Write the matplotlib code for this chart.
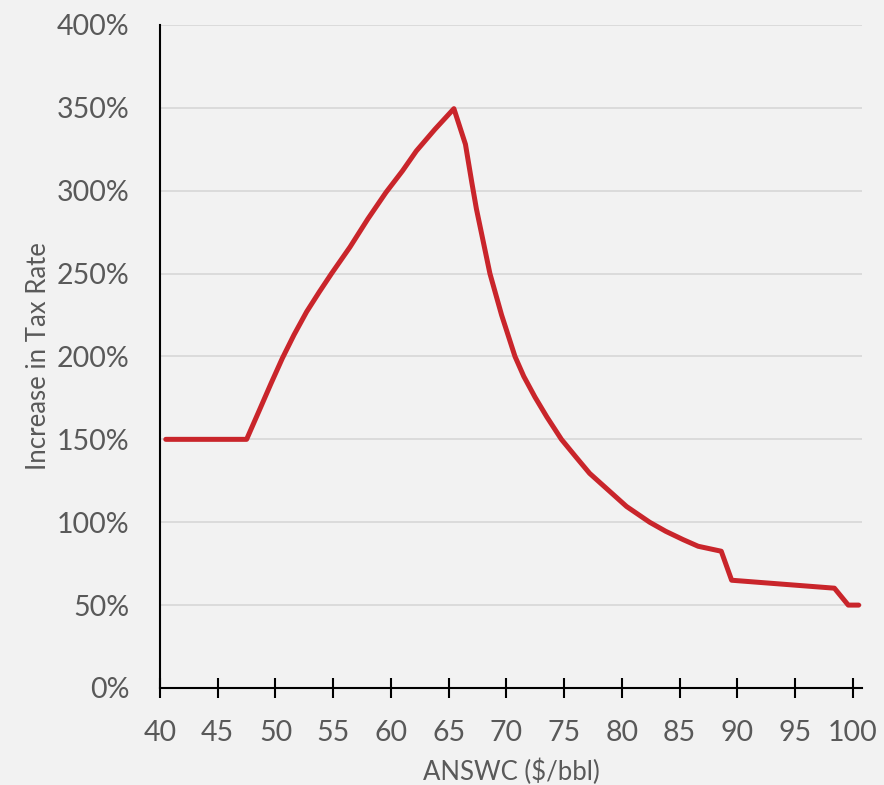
import matplotlib.pyplot as plt
from matplotlib.ticker import PercentFormatter, MultipleLocator

plt.rcParams["font.family"] = ["Lato", "DejaVu Sans"]

# 数据 (ANSWC $/bbl, 税率增幅 %)
price = [40.5, 47.5, 48.6, 49.6, 50.6, 51.6, 52.7, 53.8, 54.85, 56.45,
         58.0, 59.57, 61.0, 62.2, 63.8, 65.45,
         66.45, 67.0, 67.4, 68.57, 69.58, 70.74, 71.5, 72.47, 73.5, 74.76,
         76.0, 77.2, 78.8, 80.4, 82.4, 83.8, 85.3, 86.6, 88.6,
         89.5, 98.4, 99.6, 100.5]
increase = [150, 150, 167.5, 183.5, 199, 213, 227, 239, 250, 266,
            283, 299, 312, 324, 337, 349.5,
            328, 305, 289, 250, 225, 200, 188, 175.5, 163.5, 150,
            139.5, 129.5, 119.5, 109.5, 100, 94.5, 89.5, 85.5, 82.5,
            65, 60.2, 50, 50]

bg = "#f2f2f2"
grey = "#595959"

fig = plt.figure(figsize=(8.84, 7.85), dpi=100, facecolor=bg)
ax = fig.add_axes([0.181, 0.1236, 0.794, 0.8446], facecolor=bg)

ax.plot(price, increase, color="#c9252b", lw=3.6, solid_capstyle="round",
        solid_joinstyle="round", zorder=3)

ax.set_xlim(40, 100.78)
ax.set_ylim(0, 400)
ax.xaxis.set_major_locator(MultipleLocator(5))
ax.yaxis.set_major_locator(MultipleLocator(50))
ax.yaxis.set_major_formatter(PercentFormatter(decimals=0))

ax.grid(axis="y", color="#d9d9d9", lw=1.3)
ax.set_axisbelow(True)

for s in ["top", "right"]:
    ax.spines[s].set_visible(False)
for s in ["left", "bottom"]:
    ax.spines[s].set_color("black")
    ax.spines[s].set_linewidth(1.5)

ax.tick_params(axis="x", direction="inout", length=14, width=1.5,
               colors="black", labelcolor=grey, labelsize=20.5, pad=16)
ax.tick_params(axis="y", length=0, labelcolor=grey, labelsize=20.5, pad=22)

ax.set_xlabel("ANSWC ($/bbl)", color=grey, fontsize=18.5, labelpad=9)
ax.set_ylabel("Increase in Tax Rate", color=grey, fontsize=18.5, labelpad=4)

fig.savefig("out.png", dpi=100, facecolor=bg)
